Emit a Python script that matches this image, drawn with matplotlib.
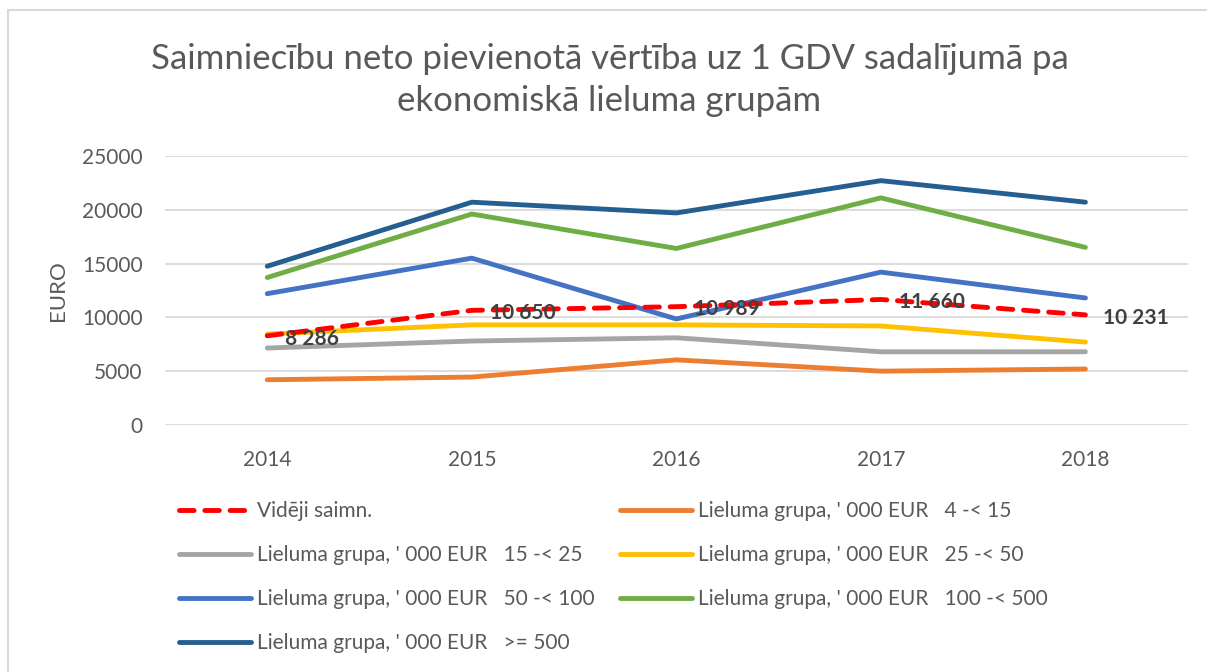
import numpy as np
import matplotlib.pyplot as plt
from matplotlib.patches import Rectangle

plt.rcParams['font.family'] = ['Lato', 'DejaVu Sans']

years = ['2014', '2015', '2016', '2017', '2018']

avg = [8286, 10650, 10989, 11660, 10231]
g_4_15 = [4200, 4450, 6050, 5000, 5200]
g_15_25 = [7150, 7800, 8100, 6800, 6800]
g_25_50 = [8450, 9300, 9300, 9200, 7700]
g_50_100 = [12200, 15500, 9850, 14200, 11800]
g_100_500 = [13700, 19600, 16400, 21100, 16500]
g_500 = [14750, 20700, 19700, 22700, 20700]

avg_labels = ['8 286', '10 650', '10 989', '11 660', '10 231']

series = [
    ("Lieluma grupa, ' 000 EUR   4 -< 15", g_4_15, '#ED7D31'),
    ("Lieluma grupa, ' 000 EUR   15 -< 25", g_15_25, '#A5A5A5'),
    ("Lieluma grupa, ' 000 EUR   25 -< 50", g_25_50, '#FFC000'),
    ("Lieluma grupa, ' 000 EUR   50 -< 100", g_50_100, '#4472C4'),
    ("Lieluma grupa, ' 000 EUR   100 -< 500", g_100_500, '#70AD47'),
    ("Lieluma grupa, ' 000 EUR   >= 500", g_500, '#255E91'),
]

text_col = '#595959'

fig = plt.figure(figsize=(12.07, 6.72), dpi=100)
# chart border (partly cut at the right/bottom like the screenshot)
fig.patches.append(Rectangle((0.0065, -0.05), 1.1, 1.035, transform=fig.transFigure,
                             fill=False, edgecolor='#d9d9d9', linewidth=1.5))
ax = fig.add_axes([0.1367, 0.3676, 0.8473, 0.4004])

x = np.arange(len(years))
handles = []
h_avg, = ax.plot(x, avg, color='#FF0000', linewidth=3.5, dashes=(3.0, 2.2),
                 dash_capstyle='round', label='Vidēji saimn.', zorder=3)
for name, vals, col in series:
    h, = ax.plot(x, vals, color=col, linewidth=3.5, solid_capstyle='round',
                 label=name, zorder=2)
    handles.append(h)

for xi, v, lab in zip(x, avg, avg_labels):
    ax.annotate(lab, (xi, v), xytext=(13, -2), textcoords='offset points',
                ha='left', va='center', fontsize=15, fontweight='bold',
                color='#404040', zorder=5)

ax.set_xlim(-0.5, 4.5)
ax.set_ylim(0, 25000)
ax.set_yticks(np.arange(0, 25001, 5000))
ax.set_xticks(x)
ax.set_xticklabels(years)
ax.grid(axis='y', color='#d9d9d9', linewidth=1.3)
ax.set_axisbelow(True)
for s in ax.spines.values():
    s.set_visible(False)
ax.tick_params(length=0, labelsize=15, colors=text_col, pad=16)
ax.tick_params(axis='x', pad=18)
ax.set_ylabel('EURO', fontsize=16, color=text_col, labelpad=10)

fig.text(0.505, 0.881,
         'Saimniecību neto pievienotā vērtība uz 1 GDV sadalījumā pa\nekonomiskā lieluma grupām',
         ha='center', va='center', fontsize=25, color=text_col, linespacing=1.42)

all_h = [h_avg] + handles
order = [0, 2, 4, 6, 1, 3, 5]
fig.legend([all_h[i] for i in order], [all_h[i].get_label() for i in order],
           loc='upper left', bbox_to_anchor=(0.133, 0.282), ncol=2, frameon=False,
           fontsize=15, labelcolor=text_col, handlelength=3.45, handletextpad=0.3,
           columnspacing=1.2, labelspacing=1.15)

fig.savefig('out.png', dpi=100)
